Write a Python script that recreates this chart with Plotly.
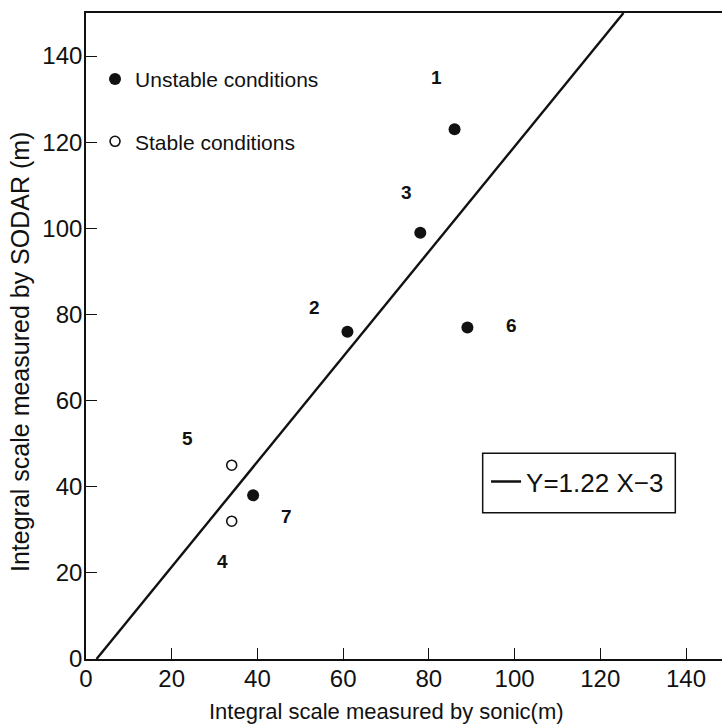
import plotly.graph_objects as go

# Integral scale: sonic anemometer (x) vs SODAR (y), metres
case_ids = ["1", "2", "3", "4", "5", "6", "7"]
sonic_m = [86, 61, 78, 34, 34, 89, 39]
sodar_m = [123, 76, 99, 32, 45, 77, 38]
stability = ["unstable", "unstable", "unstable", "stable", "stable", "unstable", "unstable"]

# Pixel offsets of each case-number tag relative to its point
tag_dx = [-18, -33, -14, -9, -44, 44, 33]
tag_dy = [52, 24, 40, -40, 27, 2, -21]

# Regression line Y = 1.22 X - 3
fit_slope = 1.22
fit_intercept = -3.0

x_ticks = [0, 20, 40, 60, 80, 100, 120, 140]
y_ticks = [0, 20, 40, 60, 80, 100, 120, 140]
X_MAX = 148.4
Y_MAX = 150

FONT = "Liberation Sans, Arial, sans-serif"
INK = "#111111"

fig = go.Figure()

ux = [x for x, s in zip(sonic_m, stability) if s == "unstable"]
uy = [y for y, s in zip(sodar_m, stability) if s == "unstable"]
sx = [x for x, s in zip(sonic_m, stability) if s == "stable"]
sy = [y for y, s in zip(sodar_m, stability) if s == "stable"]

fig.add_trace(go.Scatter(
    x=ux, y=uy, mode="markers", name="Unstable conditions",
    legendgroup="u", legend="legend",
    marker=dict(symbol="circle", size=12, color=INK, line=dict(width=0)),
))
fig.add_trace(go.Scatter(
    x=sx, y=sy, mode="markers", name="Stable conditions",
    legendgroup="s", legend="legend",
    marker=dict(symbol="circle-open", size=10, color=INK, line=dict(width=1.6)),
))

# Fit line clipped to the axes box: from y = 0 up to y = Y_MAX
x_start = (0 - fit_intercept) / fit_slope
x_end = (Y_MAX - fit_intercept) / fit_slope
fig.add_trace(go.Scatter(
    x=[x_start, x_end],
    y=[fit_slope * x_start + fit_intercept, fit_slope * x_end + fit_intercept],
    mode="lines", name="Y=1.22 X\u22123", legend="legend2",
    line=dict(color=INK, width=2.4),
))

# Case-number tags
for cid, x, y, dx, dy in zip(case_ids, sonic_m, sodar_m, tag_dx, tag_dy):
    fig.add_annotation(
        x=x, y=y, xref="x", yref="y", text=cid, showarrow=False,
        xshift=dx, yshift=dy,
        font=dict(family=FONT, size=19, color=INK, weight="bold"),
    )

# Axis titles
fig.add_annotation(
    x=70, y=-0.082, xref="x", yref="paper", text="Integral scale measured by sonic(m)",
    showarrow=False, xanchor="center", yanchor="middle",
    font=dict(family=FONT, size=22, color=INK),
)
fig.add_annotation(
    x=-0.104, y=0.475, xref="paper", yref="paper", text="Integral scale measured by SODAR (m)",
    showarrow=False, textangle=-90, xanchor="center", yanchor="middle",
    font=dict(family=FONT, size=25, color=INK),
)

# Frame around the regression-line key
fig.add_shape(
    type="rect", xref="paper", yref="paper",
    x0=0.6237, x1=0.9266, y0=0.2265, y1=0.3184,
    line=dict(color=INK, width=1.5), fillcolor="rgba(0,0,0,0)",
)

axis_common = dict(
    showgrid=False, zeroline=False, showline=True, linecolor=INK, linewidth=1.6,
    ticks="inside", ticklen=11, tickwidth=1.4, tickcolor=INK,
    tickfont=dict(family=FONT, size=24, color=INK),
)

fig.update_layout(
    width=722, height=727,
    margin=dict(l=86, r=0, t=13, b=68),
    paper_bgcolor="white", plot_bgcolor="white",
    xaxis=dict(range=[0, X_MAX], tickvals=x_ticks, mirror=True,
               ticklabelstandoff=-3, **axis_common),
    yaxis=dict(range=[0, Y_MAX], tickvals=y_ticks, mirror=False,
               ticklabelstandoff=-3, **axis_common),
    legend=dict(
        x=0.0142, y=0.929, xanchor="left", yanchor="top",
        bgcolor="rgba(0,0,0,0)", borderwidth=0, tracegroupgap=32,
        font=dict(family=FONT, size=21, color=INK),
    ),
    legend2=dict(
        x=0.629, y=0.2745, xanchor="left", yanchor="middle",
        bgcolor="rgba(0,0,0,0)", borderwidth=0,
        font=dict(family=FONT, size=26, color=INK),
    ),
    showlegend=True,
)

fig.write_html("out.html")
